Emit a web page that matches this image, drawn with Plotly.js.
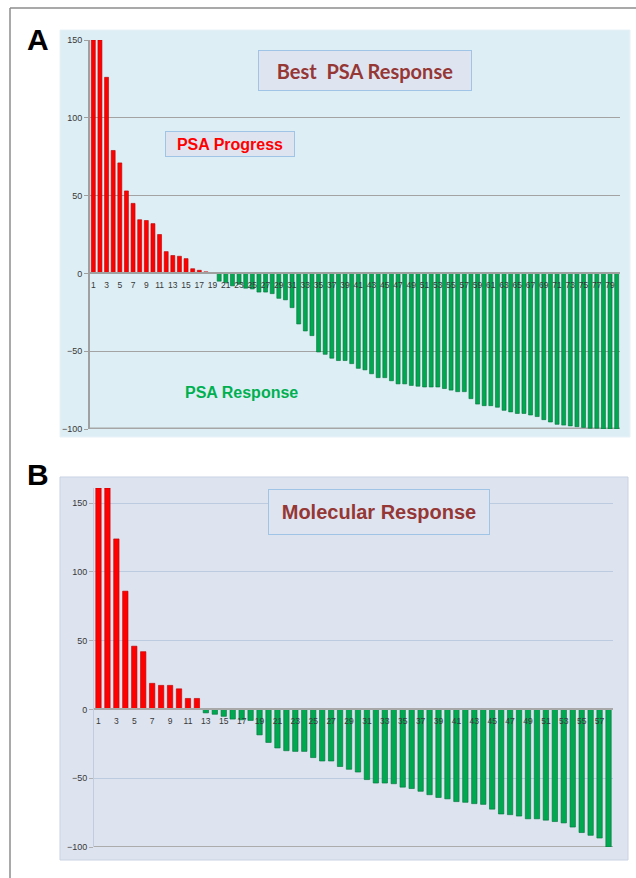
<!DOCTYPE html>
<html>
<head>
<meta charset="utf-8">
<script src="https://cdn.plot.ly/plotly-3.0.1.min.js"></script>
<style>html,body{margin:0;padding:0;background:#fff;}#chart{width:636px;height:878px;}</style>
</head>
<body>
<div id="chart"></div>
<script>
// ---- Panel A: Best PSA Response (% change), patients 1..80 ----
const psaProgress = [150, 150, 126, 79, 71, 53, 45, 34.5, 34, 32, 25, 14, 11.5, 11, 9.5, 3, 2, 1, 0.5];
const psaResponse = [-5, -6, -8, -7, -9.5, -10, -12, -12, -13, -16, -17, -22, -32.5, -37, -40,
  -50.5, -52, -54.5, -56, -56, -58, -61, -62, -64.5, -67, -67, -69, -71, -71, -72, -72.5,
  -73, -73, -73, -74, -75, -76, -76, -80.5, -84, -85, -85, -86, -88, -89, -90, -90, -91,
  -92, -94, -95.5, -97, -97.5, -98, -98.5, -99, -99.5, -99.5, -100, -100, -100];
const yTicksA = [-100, -50, 0, 50, 100, 150];

// ---- Panel B: Molecular Response (% change), patients 1..58 ----
const molProgress = [161, 161, 124, 86, 46, 42, 19, 17.5, 17.5, 15, 8, 8];
const molResponse = [-2.5, -3.5, -5, -7, -7.5, -8, -18.5, -24, -28, -30, -30.5, -30.5, -35,
  -37.5, -37.5, -41.5, -43.5, -45.5, -51, -53.5, -53.5, -54, -56.5, -57.5, -59.5, -62, -64,
  -65, -67, -67.5, -68.5, -69, -72.5, -76, -76.5, -77.5, -79.5, -79.5, -80.5, -81.5, -82.5,
  -85.5, -89.5, -91.5, -93.5, -100];
const yTicksB = [-100, -50, 0, 50, 100, 150];

const titleA = "Best  PSA Response";
const labelProgress = "PSA Progress";
const labelResponse = "PSA Response";
const titleB = "Molecular Response";

function idx(start, n) { const a = []; for (let i = 0; i < n; i++) a.push(start + i); return a; }
function odd(n) { const a = []; for (let i = 1; i <= n; i += 2) a.push(i); return a; }

const nA = psaProgress.length + psaResponse.length;
const nB = molProgress.length + molResponse.length;

const W = 636, H = 878;
const px = v => v / W;
const py = v => 1 - v / H;

const RED = '#ff0000', RED_D = '#b80000', GREEN = '#00a84f', GREEN_D = '#00703a';

const traces = [
  {type: 'bar', x: idx(1, psaProgress.length), y: psaProgress, xaxis: 'x', yaxis: 'y',
   marker: {color: RED, line: {color: RED_D, width: 0.6}}, width: 0.6, hoverinfo: 'x+y'},
  {type: 'bar', x: idx(psaProgress.length + 1, psaResponse.length), y: psaResponse, xaxis: 'x', yaxis: 'y',
   marker: {color: GREEN, line: {color: GREEN_D, width: 0.6}}, width: 0.6, hoverinfo: 'x+y'},
  {type: 'bar', x: idx(1, molProgress.length), y: molProgress, xaxis: 'x2', yaxis: 'y2',
   marker: {color: RED, line: {color: RED_D, width: 0.6}}, width: 0.6, hoverinfo: 'x+y'},
  {type: 'bar', x: idx(molProgress.length + 1, molResponse.length), y: molResponse, xaxis: 'x2', yaxis: 'y2',
   marker: {color: GREEN, line: {color: GREEN_D, width: 0.6}}, width: 0.6, hoverinfo: 'x+y'}
];

const rangeA = [-100, 150];
const rangeB = [-100, 161];
const domYA = [py(429), py(40)];
const domYB = [py(847), py(488)];
const zeroPos = (dom, r) => dom[0] + (0 - r[0]) / (r[1] - r[0]) * (dom[1] - dom[0]);

const xTickFont = {family: 'Liberation Sans, Arial, sans-serif', size: 8.5, color: '#383838'};
const yTickFont = {family: 'Liberation Sans, Arial, sans-serif', size: 9, color: '#383838'};

const layout = {
  width: W, height: H,
  margin: {l: 0, r: 0, t: 0, b: 0},
  paper_bgcolor: '#ffffff',
  plot_bgcolor: 'rgba(0,0,0,0)',
  showlegend: false,
  xaxis: {domain: [px(90), px(620)], range: [0.5, nA + 0.5], anchor: 'free',
          position: zeroPos(domYA, rangeA),
          tickmode: 'array', tickvals: odd(nA), ticktext: odd(nA).map(String),
          tickfont: xTickFont, tickangle: 0, showgrid: false, zeroline: false,
          showline: true, linecolor: '#a0a0a0', linewidth: 2, ticks: '', ticklabelstandoff: 3},
  yaxis: {domain: domYA, range: rangeA, anchor: 'x', tickvals: yTicksA,
          tickfont: yTickFont, showgrid: true, gridcolor: '#a3a3a3', gridwidth: 1,
          zeroline: false, showline: true, linecolor: '#a0a0a0', linewidth: 2,
          ticks: 'outside', ticklen: 4, tickcolor: '#a0a0a0'},
  xaxis2: {domain: [px(94), px(613)], range: [0.5, nB + 0.5], anchor: 'free',
          position: zeroPos(domYB, rangeB),
          tickmode: 'array', tickvals: odd(nB), ticktext: odd(nB).map(String),
          tickfont: xTickFont, tickangle: 0, showgrid: false, zeroline: false,
          showline: true, linecolor: '#a8a8a8', linewidth: 2, ticks: '', ticklabelstandoff: 3},
  yaxis2: {domain: domYB, range: rangeB, anchor: 'x2', tickvals: yTicksB,
          tickfont: yTickFont, showgrid: true, gridcolor: '#bccbe0', gridwidth: 1,
          zeroline: false, showline: true, linecolor: '#c0cde0', linewidth: 1,
          ticks: 'outside', ticklen: 4, tickcolor: '#b0b0b0'},
  shapes: [
    {type: 'line', xref: 'paper', yref: 'paper', x0: px(10), x1: 1, y0: py(8), y1: py(8),
     line: {color: '#8c8c8c', width: 1.5}, layer: 'below'},
    {type: 'line', xref: 'paper', yref: 'paper', x0: px(10), x1: px(10), y0: py(8), y1: 0,
     line: {color: '#8c8c8c', width: 1.5}, layer: 'below'},
    {type: 'rect', xref: 'paper', yref: 'paper', x0: px(60), x1: px(630), y0: py(437), y1: py(30),
     fillcolor: '#ddeef5', line: {color: '#e8f2f8', width: 1}, layer: 'below'},
    {type: 'rect', xref: 'paper', yref: 'paper', x0: px(60), x1: px(628), y0: py(860), y1: py(477),
     fillcolor: '#dde4f0', line: {color: '#c9d3e3', width: 1}, layer: 'below'},
    {type: 'line', xref: 'x domain', yref: 'y', x0: 0, x1: 1, y0: rangeA[0], y1: rangeA[0],
     line: {color: '#a6a6a6', width: 3}, layer: 'below'},
    {type: 'line', xref: 'x2 domain', yref: 'y2', x0: 0, x1: 1, y0: rangeB[0], y1: rangeB[0],
     line: {color: '#acacac', width: 2}, layer: 'below'}
  ],
  annotations: [
    {text: '<b>A</b>', xref: 'paper', yref: 'paper', x: px(38), y: py(39), xanchor: 'center', yanchor: 'middle',
     showarrow: false, font: {family: 'Liberation Sans, Arial, sans-serif', size: 30, color: '#000'}},
    {text: '<b>B</b>', xref: 'paper', yref: 'paper', x: px(38), y: py(475), xanchor: 'center', yanchor: 'middle',
     showarrow: false, font: {family: 'Liberation Sans, Arial, sans-serif', size: 30, color: '#000'}},
    {text: '<b>' + titleA + '</b>', xref: 'paper', yref: 'paper', x: px(365), y: py(70.5),
     xanchor: 'center', yanchor: 'middle', showarrow: false, width: 212, height: 39,
     bgcolor: '#dfe4f1', bordercolor: '#9fc4e6', borderwidth: 1, borderpad: 0,
     font: {family: 'Lato, sans-serif', size: 20, color: '#953735'}},
    {text: '<b>' + labelProgress + '</b>', xref: 'paper', yref: 'paper', x: px(230), y: py(144),
     xanchor: 'center', yanchor: 'middle', showarrow: false, width: 128, height: 24,
     bgcolor: '#dfe4f1', bordercolor: '#9fc4e6', borderwidth: 1, borderpad: 0,
     font: {family: 'Liberation Sans, Arial, sans-serif', size: 16, color: '#ff0000'}},
    {text: '<b>' + labelResponse + '</b>', xref: 'paper', yref: 'paper', x: px(241), y: py(392),
     xanchor: 'center', yanchor: 'middle', showarrow: false,
     font: {family: 'Liberation Sans, Arial, sans-serif', size: 16, color: '#00b050'}},
    {text: '<b>' + titleB + '</b>', xref: 'paper', yref: 'paper', x: px(379), y: py(512),
     xanchor: 'center', yanchor: 'middle', showarrow: false, width: 220, height: 44,
     bgcolor: '#dfe4f1', bordercolor: '#9fc4e6', borderwidth: 1, borderpad: 0,
     font: {family: 'Liberation Sans, Arial, sans-serif', size: 20, color: '#953735'}}
  ]
};

Plotly.newPlot('chart', traces, layout, {staticPlot: true, displayModeBar: false});
</script>
</body>
</html>
